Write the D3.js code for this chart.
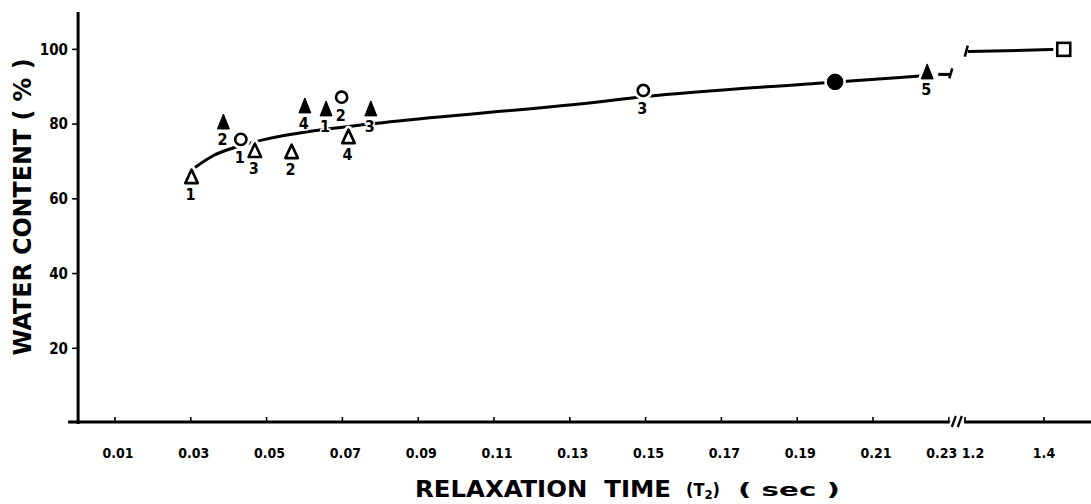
<!DOCTYPE html>
<html>
<head>
<meta charset="utf-8">
<script src="https://cdn.jsdelivr.net/npm/d3@7/dist/d3.min.js"></script>
<style>
  body { margin: 0; background: #fff; }
  text { font-family: "DejaVu Sans Condensed", "DejaVu Sans", sans-serif; font-weight: bold; fill: #000; }
</style>
</head>
<body>
<div id="chart"></div>
<script>
// Axis ticks
var yTicks = [20, 40, 60, 80, 100];
var xTicksLeft = [0.01, 0.03, 0.05, 0.07, 0.09, 0.11, 0.13, 0.15, 0.17, 0.19, 0.21, 0.23];
var xTickLabelsLeft = ["0.01", "0.03", "0.05", "0.07", "0.09", "0.11", "0.13", "0.15", "0.17", "0.19", "0.21", "0.23"];
var xTicksRight = [1.2, 1.4];
var xTickLabelsRight = ["1.2", "1.4"];

// Open triangles
var openTri_t2 = [0.0302, 0.0566, 0.0469, 0.0716];
var openTri_water = [66.0, 72.7, 73.0, 76.7];
var openTri_label = ["1", "2", "3", "4"];

// Filled triangles
var fillTri_t2 = [0.0657, 0.0386, 0.0775, 0.0601, 0.2243];
var fillTri_water = [84.2, 80.7, 84.2, 85.0, 94.1];
var fillTri_label = ["1", "2", "3", "4", "5"];

// Open circles
var openCirc_t2 = [0.0432, 0.0698, 0.1494];
var openCirc_water = [75.9, 87.2, 89.0];
var openCirc_label = ["1", "2", "3"];

// Filled circle
var fillCirc_t2 = [0.200];
var fillCirc_water = [91.3];

// Open square (right part of the broken axis)
var square_t2 = [1.45];
var square_water = [100];

// Fitted curve, left part
var curve_t2 = [0.0311, 0.036, 0.0411, 0.0487, 0.0562, 0.0645, 0.0751, 0.0826, 0.138, 0.1493, 0.1965, 0.2215, 0.2243];
var curve_water = [68.4, 71.6, 73.6, 75.7, 77.2, 78.5, 79.8, 80.6, 86.0, 87.3, 91.0, 92.8, 93.0];
// short dash before the break
var dash_t2 = [0.2272, 0.2304];
var dash_water = [93.3, 93.3];
// curve, right part
var right_t2 = [1.207, 1.44];
var right_water = [99.4, 100];

var width = 1091, height = 504;

var svg = d3.select("#chart").append("svg")
    .attr("width", width)
    .attr("height", height);

// scales
var x = d3.scaleLinear().domain([0, 0.23]).range([77.1, 948.8]);
var x2 = d3.scaleLinear().domain([1.2, 1.4]).range([965, 1044]);
var y = d3.scaleLinear().domain([0, 110]).range([423, 12]);
var axisY = 422;

// ---- axes ----
var axes = svg.append("g").attr("stroke", "#000").attr("stroke-width", 3).attr("fill", "none");

// y axis line
axes.append("line")
    .attr("x1", x(0) + 1).attr("x2", x(0) + 1)
    .attr("y1", y(110)).attr("y2", axisY + 2);

// x axis, left and right of the break
axes.append("line")
    .attr("x1", x(0) - 9).attr("x2", x(0.23) + 1)
    .attr("y1", axisY).attr("y2", axisY);
axes.append("line")
    .attr("x1", x2(1.2) - 1).attr("x2", width)
    .attr("y1", axisY).attr("y2", axisY);

// break marks on x axis
[x(0.23) + 5, x(0.23) + 11].forEach(function(bx) {
    axes.append("line")
        .attr("x1", bx - 2).attr("y1", axisY + 5)
        .attr("x2", bx + 2).attr("y2", axisY - 6)
        .attr("stroke-width", 2.2);
});

// y ticks
axes.selectAll(".ytick").data(yTicks).enter().append("line")
    .attr("class", "ytick")
    .attr("x1", x(0) - 5).attr("x2", x(0) + 1)
    .attr("y1", function(d) { return y(d); })
    .attr("y2", function(d) { return y(d); })
    .attr("stroke-width", 1.6);

// x ticks (point up)
axes.selectAll(".xtickL").data(xTicksLeft).enter().append("line")
    .attr("x1", function(d) { return x(d); })
    .attr("x2", function(d) { return x(d); })
    .attr("y1", axisY).attr("y2", axisY - 5)
    .attr("stroke-width", 1.6);
axes.selectAll(".xtickR").data(xTicksRight).enter().append("line")
    .attr("x1", function(d) { return x2(d); })
    .attr("x2", function(d) { return x2(d); })
    .attr("y1", axisY).attr("y2", axisY - 5)
    .attr("stroke-width", 1.6);

// tick labels
svg.selectAll(".ylab").data(yTicks).enter().append("text")
    .attr("x", 68)
    .attr("y", function(d) { return y(d); })
    .attr("dy", "0.36em")
    .attr("text-anchor", "end")
    .style("font-size", "15px")
    .text(function(d) { return d; });

svg.selectAll(".xlabL").data(xTicksLeft).enter().append("text")
    .attr("x", function(d, i) { return x(d) + (i === xTicksLeft.length - 1 ? -7 : 3); })
    .attr("y", 458)
    .attr("text-anchor", "middle")
    .style("font-size", "14px")
    .text(function(d, i) { return xTickLabelsLeft[i]; });

svg.selectAll(".xlabR").data(xTicksRight).enter().append("text")
    .attr("x", function(d, i) { return x2(d) + (i === 0 ? 8 : 0); })
    .attr("y", 458)
    .attr("text-anchor", "middle")
    .style("font-size", "14px")
    .text(function(d, i) { return xTickLabelsRight[i]; });

// axis titles
svg.append("text")
    .attr("transform", "translate(31,207) rotate(-90)")
    .attr("text-anchor", "middle")
    .attr("textLength", 297)
    .attr("lengthAdjust", "spacingAndGlyphs")
    .style("font-size", "24px")
    .text("WATER CONTENT ( % )");

svg.append("text")
    .attr("x", 415).attr("y", 497)
    .attr("textLength", 256)
    .attr("lengthAdjust", "spacingAndGlyphs")
    .style("font-size", "23px")
    .style("white-space", "pre")
    .text("RELAXATION  TIME");

var t2lab = svg.append("text")
    .attr("x", 686).attr("y", 496)
    .style("font-size", "18px");
t2lab.append("tspan").text("(T");
t2lab.append("tspan").attr("dy", 3).style("font-size", "13px").text("2");
t2lab.append("tspan").attr("dy", -3).text(")");

svg.append("text")
    .attr("x", 738).attr("y", 496)
    .attr("textLength", 102)
    .attr("lengthAdjust", "spacingAndGlyphs")
    .style("font-size", "18px")
    .style("white-space", "pre")
    .text("( sec )");

// ---- curve ----
var line = d3.line()
    .x(function(d) { return x(d[0]); })
    .y(function(d) { return y(d[1]); })
    .curve(d3.curveMonotoneX);

var line2 = d3.line()
    .x(function(d) { return x2(d[0]); })
    .y(function(d) { return y(d[1]); });

var curveData = curve_t2.map(function(t, i) { return [t, curve_water[i]]; });
var dashData = dash_t2.map(function(t, i) { return [t, dash_water[i]]; });
var rightData = right_t2.map(function(t, i) { return [t, right_water[i]]; });

var curves = svg.append("g").attr("fill", "none").attr("stroke", "#000").attr("stroke-width", 3);
curves.append("path").datum(curveData).attr("d", line);
curves.append("path").datum(dashData).attr("d", line);
curves.append("path").datum(rightData).attr("d", line2);

// break slash at end of left curve
var endX = x(dash_t2[1]), endY = y(dash_water[1]);
curves.append("line")
    .attr("x1", endX - 1).attr("y1", endY + 4)
    .attr("x2", endX + 2).attr("y2", endY - 6)
    .attr("stroke-width", 2.5);
// break slash at start of right curve
var stX = x2(right_t2[0]), stY = y(right_water[0]);
curves.append("line")
    .attr("x1", stX - 3).attr("y1", stY + 5)
    .attr("x2", stX).attr("y2", stY - 6)
    .attr("stroke-width", 2.5);

// ---- markers ----
function triPath(w, h) {
    return "M0," + (-h / 2) + "L" + (w / 2) + "," + (h / 2) + "L" + (-w / 2) + "," + (h / 2) + "Z";
}

var marks = svg.append("g");

function addMarker(px, py, shape, filled) {
    var g = marks.append("g").attr("transform", "translate(" + px + "," + py + ")");
    [true, false].forEach(function(halo) {
        var el;
        if (shape === "tri") {
            el = g.append("path").attr("d", filled ? triPath(12, 15) : triPath(12.5, 13.5))
                .attr("stroke-linejoin", "round");
        } else if (shape === "circ") {
            el = g.append("circle").attr("r", filled ? 7.8 : 5.6);
        } else {
            el = g.append("rect").attr("x", -6.5).attr("y", -6.5).attr("width", 13).attr("height", 13);
        }
        if (halo) {
            el.attr("fill", "#fff").attr("stroke", "#fff").attr("stroke-width", filled ? 6 : 8);
        } else {
            el.attr("fill", filled ? "#000" : "#fff")
              .attr("stroke", "#000")
              .attr("stroke-width", filled ? 1 : 2.6);
        }
    });
}

function addLabel(px, py, txt) {
    marks.append("text")
        .attr("x", px - 1)
        .attr("y", py + 18)
        .attr("dy", "0.36em")
        .attr("text-anchor", "middle")
        .style("font-size", "16px")
        .style("stroke", "#fff")
        .style("stroke-width", 3)
        .style("paint-order", "stroke")
        .text(txt);
}

openTri_t2.forEach(function(t, i) {
    addMarker(x(t), y(openTri_water[i]), "tri", false);
    addLabel(x(t), y(openTri_water[i]), openTri_label[i]);
});
fillTri_t2.forEach(function(t, i) {
    addMarker(x(t), y(fillTri_water[i]), "tri", true);
    addLabel(x(t), y(fillTri_water[i]), fillTri_label[i]);
});
openCirc_t2.forEach(function(t, i) {
    addMarker(x(t), y(openCirc_water[i]), "circ", false);
    addLabel(x(t), y(openCirc_water[i]), openCirc_label[i]);
});
fillCirc_t2.forEach(function(t, i) {
    addMarker(x(t), y(fillCirc_water[i]), "circ", true);
});
square_t2.forEach(function(t, i) {
    addMarker(x2(t), y(square_water[i]), "sq", false);
});
</script>
</body>
</html>
